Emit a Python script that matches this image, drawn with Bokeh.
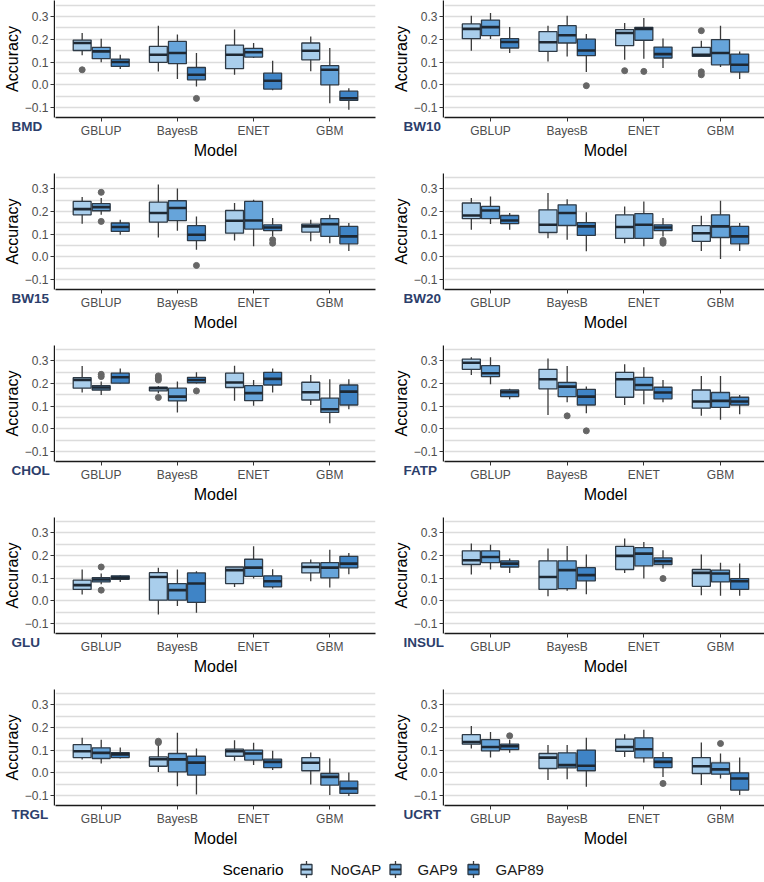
from bokeh.plotting import figure
from bokeh.layouts import row, column
from bokeh.models import (Range1d, FixedTicker, CustomJSTickFormatter, ColumnDataSource, Title, Grid)
from bokeh.embed import file_html
from bokeh.resources import INLINE
from bokeh.core.properties import value

# ---------------- data ----------------
models = ["GBLUP", "BayesB", "ENET", "GBM"]
scenarios = ["NoGAP", "GAP9", "GAP89"]
traits = ["BMD", "BW10", "BW15", "BW20", "CHOL", "FATP", "GLU", "INSUL", "TRGL", "UCRT"]

# each row: (whisker low, Q1, median, Q3, whisker high); order = model x scenario
BMD = [
    (0.130, 0.151, 0.184, 0.197, 0.228), (0.099, 0.115, 0.147, 0.165, 0.203), (0.069, 0.081, 0.100, 0.113, 0.132),
    (0.059, 0.099, 0.132, 0.169, 0.260), (0.025, 0.093, 0.140, 0.191, 0.221), (-0.007, 0.022, 0.044, 0.076, 0.140),
    (0.044, 0.071, 0.132, 0.175, 0.243), (0.118, 0.122, 0.143, 0.160, 0.184), (-0.024, -0.019, 0.018, 0.051, 0.106),
    (0.060, 0.110, 0.150, 0.184, 0.213), (-0.081, 0.000, 0.066, 0.084, 0.162), (-0.110, -0.069, -0.059, -0.028, -0.015),
]
BMD_out = [("GBLUP", "NoGAP", 0.066), ("BayesB", "GAP89", -0.060)]

BW10 = [
    (0.150, 0.203, 0.246, 0.268, 0.304), (0.201, 0.216, 0.254, 0.285, 0.316), (0.140, 0.162, 0.188, 0.203, 0.254),
    (0.103, 0.147, 0.187, 0.234, 0.260), (0.125, 0.184, 0.218, 0.260, 0.304), (0.056, 0.128, 0.151, 0.201, 0.224),
    (0.110, 0.172, 0.228, 0.243, 0.272), (0.115, 0.196, 0.246, 0.253, 0.294), (0.074, 0.118, 0.135, 0.166, 0.204),
    (0.122, 0.125, 0.132, 0.165, 0.194), (0.078, 0.088, 0.140, 0.199, 0.260), (0.025, 0.056, 0.088, 0.135, 0.147),
]
BW10_out = [("BayesB", "GAP89", -0.004), ("ENET", "NoGAP", 0.062), ("ENET", "GAP9", 0.059),
            ("GBM", "NoGAP", 0.238), ("GBM", "NoGAP", 0.057), ("GBM", "NoGAP", 0.044)]

BW15 = [
    (0.146, 0.185, 0.210, 0.244, 0.263), (0.185, 0.203, 0.219, 0.234, 0.259), (0.097, 0.112, 0.131, 0.149, 0.163),
    (0.085, 0.153, 0.193, 0.241, 0.318), (0.115, 0.159, 0.215, 0.247, 0.301), (0.031, 0.071, 0.097, 0.137, 0.178),
    (0.072, 0.104, 0.159, 0.204, 0.237), (0.046, 0.122, 0.160, 0.244, 0.251), (0.090, 0.115, 0.129, 0.141, 0.171),
    (0.068, 0.109, 0.134, 0.144, 0.163), (0.060, 0.090, 0.144, 0.168, 0.185), (0.026, 0.057, 0.090, 0.134, 0.149),
]
BW15_out = [("GBLUP", "GAP9", 0.284), ("GBLUP", "GAP9", 0.156), ("BayesB", "GAP89", -0.038),
            ("ENET", "GAP89", 0.075), ("ENET", "GAP89", 0.060)]

BW20 = [
    (0.119, 0.168, 0.182, 0.237, 0.259), (0.144, 0.168, 0.204, 0.222, 0.266), (0.119, 0.146, 0.160, 0.182, 0.193),
    (0.082, 0.107, 0.141, 0.207, 0.281), (0.075, 0.138, 0.193, 0.229, 0.254), (0.024, 0.094, 0.134, 0.151, 0.196),
    (0.060, 0.081, 0.131, 0.185, 0.222), (0.046, 0.081, 0.141, 0.190, 0.244), (0.090, 0.115, 0.129, 0.141, 0.171),
    (0.026, 0.068, 0.104, 0.137, 0.181), (-0.010, 0.085, 0.134, 0.185, 0.247), (0.026, 0.057, 0.090, 0.134, 0.149),
]
BW20_out = [("ENET", "GAP89", 0.072), ("ENET", "GAP89", 0.066), ("ENET", "GAP89", 0.060)]

CHOL = [
    (0.160, 0.179, 0.215, 0.225, 0.277), (0.149, 0.171, 0.182, 0.190, 0.208), (0.200, 0.201, 0.227, 0.245, 0.266),
    (0.157, 0.167, 0.179, 0.183, 0.189), (0.072, 0.123, 0.142, 0.179, 0.208), (0.200, 0.203, 0.215, 0.227, 0.249),
    (0.124, 0.182, 0.204, 0.245, 0.278), (0.102, 0.124, 0.157, 0.190, 0.215), (0.160, 0.193, 0.220, 0.249, 0.266),
    (0.105, 0.127, 0.161, 0.205, 0.237), (0.025, 0.072, 0.086, 0.135, 0.218), (0.086, 0.105, 0.164, 0.193, 0.218),
]
CHOL_out = [("GBLUP", "GAP9", 0.240), ("GBLUP", "GAP9", 0.230), ("BayesB", "NoGAP", 0.233),
            ("BayesB", "NoGAP", 0.223), ("BayesB", "NoGAP", 0.215), ("BayesB", "NoGAP", 0.138),
            ("BayesB", "GAP89", 0.167)]

FATP = [
    (0.237, 0.262, 0.291, 0.307, 0.315), (0.196, 0.230, 0.245, 0.278, 0.315), (0.130, 0.142, 0.161, 0.171, 0.176),
    (0.061, 0.176, 0.218, 0.262, 0.310), (0.117, 0.142, 0.186, 0.204, 0.277), (0.069, 0.105, 0.142, 0.174, 0.186),
    (0.105, 0.139, 0.218, 0.249, 0.284), (0.108, 0.171, 0.193, 0.227, 0.271), (0.117, 0.132, 0.160, 0.183, 0.215),
    (0.057, 0.091, 0.120, 0.171, 0.233), (0.040, 0.094, 0.123, 0.160, 0.233), (0.064, 0.105, 0.120, 0.139, 0.149),
]
FATP_out = [("BayesB", "GAP9", 0.057), ("BayesB", "GAP89", -0.009)]

GLU = [
    (0.028, 0.050, 0.069, 0.091, 0.138), (0.073, 0.083, 0.094, 0.102, 0.120), (0.083, 0.095, 0.102, 0.110, 0.113),
    (-0.060, 0.003, 0.105, 0.124, 0.146), (-0.023, 0.003, 0.047, 0.076, 0.138), (-0.053, -0.007, 0.076, 0.123, 0.130),
    (0.061, 0.076, 0.135, 0.149, 0.149), (0.098, 0.108, 0.146, 0.183, 0.240), (0.054, 0.061, 0.086, 0.110, 0.139),
    (0.086, 0.123, 0.149, 0.167, 0.182), (0.059, 0.101, 0.146, 0.168, 0.225), (0.117, 0.145, 0.164, 0.196, 0.211),
]
GLU_out = [("GBLUP", "GAP9", 0.149), ("GBLUP", "GAP9", 0.047)]

INSUL = [
    (0.116, 0.160, 0.179, 0.220, 0.252), (0.138, 0.168, 0.193, 0.220, 0.247), (0.123, 0.149, 0.164, 0.176, 0.186),
    (0.020, 0.050, 0.105, 0.176, 0.230), (0.044, 0.054, 0.135, 0.176, 0.242), (0.029, 0.088, 0.113, 0.146, 0.204),
    (0.123, 0.138, 0.198, 0.240, 0.274), (0.098, 0.154, 0.208, 0.234, 0.259), (0.142, 0.160, 0.174, 0.189, 0.223),
    (0.025, 0.064, 0.123, 0.138, 0.204), (0.022, 0.083, 0.120, 0.135, 0.168), (0.022, 0.050, 0.086, 0.098, 0.164),
]
INSUL_out = [("ENET", "GAP89", 0.098)]

TRGL = [
    (0.059, 0.067, 0.095, 0.124, 0.154), (0.041, 0.063, 0.088, 0.110, 0.146), (0.063, 0.067, 0.081, 0.089, 0.111),
    (0.004, 0.029, 0.060, 0.070, 0.129), (-0.059, 0.004, 0.059, 0.085, 0.176), (-0.095, -0.010, 0.045, 0.073, 0.107),
    (0.053, 0.073, 0.095, 0.104, 0.143), (0.034, 0.056, 0.085, 0.100, 0.132), (0.012, 0.023, 0.048, 0.060, 0.097),
    (-0.051, 0.009, 0.044, 0.067, 0.089), (-0.098, -0.054, -0.018, -0.003, 0.063), (-0.102, -0.091, -0.069, -0.037, 0.001),
]
TRGL_out = [("BayesB", "NoGAP", 0.139), ("BayesB", "NoGAP", 0.133)]

UCRT = [
    (0.107, 0.126, 0.136, 0.168, 0.206), (0.067, 0.097, 0.114, 0.146, 0.180), (0.088, 0.102, 0.117, 0.126, 0.146),
    (-0.032, 0.019, 0.067, 0.085, 0.122), (-0.028, 0.022, 0.034, 0.088, 0.122), (-0.061, 0.009, 0.031, 0.100, 0.155),
    (0.070, 0.095, 0.114, 0.148, 0.170), (0.045, 0.066, 0.104, 0.154, 0.190), (-0.018, 0.023, 0.048, 0.067, 0.092),
    (-0.054, -0.003, 0.029, 0.067, 0.133), (-0.025, -0.006, 0.015, 0.044, 0.085), (-0.098, -0.076, -0.025, 0.000, 0.067),
]
UCRT_out = [("GBLUP", "GAP89", 0.163), ("ENET", "GAP89", -0.047), ("GBM", "GAP9", 0.129)]

y_ticks = [-0.1, 0.0, 0.1, 0.2, 0.3]
y_minor = [-0.05, 0.05, 0.15, 0.25, 0.35]

stats = {"BMD": BMD, "BW10": BW10, "BW15": BW15, "BW20": BW20, "CHOL": CHOL,
         "FATP": FATP, "GLU": GLU, "INSUL": INSUL, "TRGL": TRGL, "UCRT": UCRT}
outs = {"BMD": BMD_out, "BW10": BW10_out, "BW15": BW15_out, "BW20": BW20_out, "CHOL": CHOL_out,
        "FATP": FATP_out, "GLU": GLU_out, "INSUL": INSUL_out, "TRGL": TRGL_out, "UCRT": UCRT_out}

# ---------------- style ----------------
FONT = "Liberation Sans"
fills = ["#A9CEEC", "#66A4DA", "#3F84C6"]
offsets = [-0.25, 0.0, 0.25]
BOX_W = 0.235
EDGE = "#2E3A46"
GRID = "#DCDCDC"
LABEL_COLOR = "#2C3E6B"
Y_MIN = -0.144


def style_axis(ax):
    ax.axis_line_color = "#1A1A1A"
    ax.axis_line_width = 1.4
    ax.major_tick_line_color = "#333333"
    ax.major_tick_out = 4
    ax.major_tick_in = 0
    ax.minor_tick_line_color = None
    ax.major_label_text_font = FONT
    ax.major_label_text_font_size = "12px"
    ax.major_label_text_color = "#4D4D4D"
    ax.major_label_standoff = 2
    ax.axis_label_text_font = FONT
    ax.axis_label_text_font_size = "16px"
    ax.axis_label_text_font_style = "normal"
    ax.axis_label_text_color = "black"
    ax.axis_label_standoff = 1


def make_panel(trait, col, r):
    if col == 0:
        sbl, fw, mbr, toff = 52, 320, 9, -43
    else:
        sbl, fw, mbr, toff = 59, 322, 0, -40
    if r == 0:
        fh, mbt, ytop = 117, 0, 0.371
    else:
        fh, mbt, ytop = 116, 1, 0.367
    mbb = 47 if r == 4 else 55
    yr = Range1d(Y_MIN, ytop)
    yt = FixedTicker(ticks=y_ticks, minor_ticks=y_minor)

    # strip holding the y axis and the trait tag
    s = figure(frame_width=1, frame_height=fh, min_border_left=sbl, min_border_right=0,
               min_border_top=mbt, min_border_bottom=mbb, x_range=Range1d(0, 1), y_range=yr,
               x_axis_location=None, y_axis_location="left",
               output_backend="svg", toolbar_location=None, tools="")
    s.outline_line_color = None
    s.grid.visible = False
    s.yaxis.ticker = yt
    s.yaxis.formatter = CustomJSTickFormatter(
        code="var s = Math.abs(tick).toFixed(1); return tick < -1e-9 ? '\u2212' + s : s;")
    style_axis(s.yaxis[0])
    s.yaxis.axis_label = "Accuracy"
    s.add_layout(Title(text=trait, align="left", offset=toff, standoff=3, vertical_align="top",
                       text_font=FONT, text_font_size="13.5px", text_font_style="bold",
                       text_color=LABEL_COLOR), "below")

    p = figure(frame_width=fw, frame_height=fh, min_border_left=0, min_border_right=mbr,
               min_border_top=mbt, min_border_bottom=mbb,
               x_range=Range1d(0.4, 4.6), y_range=yr, y_axis_location=None,
               output_backend="svg", toolbar_location=None, tools="")
    p.outline_line_color = None
    p.background_fill_color = "white"
    p.border_fill_color = "white"
    p.xgrid.visible = False
    p.add_layout(Grid(dimension=1, ticker=yt, grid_line_color=GRID, grid_line_width=1.3,
                      minor_grid_line_color=GRID, minor_grid_line_width=1.3))

    data = stats[trait]
    x, lo, q1, med, q3, hi, fc, xl, xr_ = [], [], [], [], [], [], [], [], []
    for i, m in enumerate(models):
        for j, sc in enumerate(scenarios):
            a, b, c, d, e = data[i * 3 + j]
            xc = i + 1 + offsets[j]
            x.append(xc); lo.append(a); q1.append(b); med.append(c); q3.append(d); hi.append(e)
            fc.append(fills[j]); xl.append(xc - BOX_W / 2); xr_.append(xc + BOX_W / 2)
    src = ColumnDataSource(dict(x=x, lo=lo, q1=q1, med=med, q3=q3, hi=hi, fc=fc, xl=xl, xr=xr_))

    p.segment(x0="x", y0="lo", x1="x", y1="hi", source=src, line_color="#3A3A3A", line_width=1.3)
    p.vbar(x="x", width=BOX_W, bottom="q1", top="q3", source=src, fill_color="fc",
           line_color=EDGE, line_width=1.3)
    p.segment(x0="xl", y0="med", x1="xr", y1="med", source=src, line_color="#1E2833", line_width=2.6)

    ox = [models.index(m) + 1 + offsets[scenarios.index(sc)] for m, sc, v in outs[trait]]
    oy = [v for m, sc, v in outs[trait]]
    p.scatter(ox, oy, size=6, fill_color="#666666", line_color="#666666")

    p.xaxis.ticker = FixedTicker(ticks=[1, 2, 3, 4])
    p.xaxis.formatter = CustomJSTickFormatter(args=dict(names=models),
                                              code="return names[Math.round(tick) - 1] || '';")
    style_axis(p.xaxis[0])
    p.xaxis.axis_label = "Model"
    return s, p


rows = []
for r in range(5):
    sL, pL = make_panel(traits[2 * r], 0, r)
    sR, pR = make_panel(traits[2 * r + 1], 1, r)
    rows.append(row(sL, pL, sR, pR))

# ---------------- legend ----------------
LH = 30
lf = figure(frame_width=764, frame_height=LH, min_border=0, x_range=Range1d(0, 764), y_range=Range1d(0, LH),
            x_axis_location=None, y_axis_location=None,
            output_backend="svg", toolbar_location=None, tools="")
lf.grid.visible = False
lf.outline_line_color = None
key_x = [306, 395, 473]
lab_x = [330, 417, 495]
cy = 13
lf.text(x=[222], y=[cy], text=["Scenario"], text_font=value(FONT), text_font_size=value("15.5px"),
        text_baseline="middle", text_color="black")
lf.segment(x0=key_x, y0=[cy - 8.5] * 3, x1=key_x, y1=[cy + 8.5] * 3, line_color="#3A3A3A", line_width=1.3)
lf.rect(x=key_x, y=[cy] * 3, width=11, height=10, fill_color=fills, line_color=EDGE, line_width=1.3)
lf.segment(x0=[k - 5.5 for k in key_x], y0=[cy] * 3, x1=[k + 5.5 for k in key_x], y1=[cy] * 3,
           line_color="#1E2833", line_width=2)
lf.text(x=lab_x, y=[cy] * 3, text=scenarios, text_font=value(FONT), text_font_size=value("15px"),
        text_baseline="middle", text_color="#1A1A1A")

layout = column(*rows, lf)
open("out.html", "w").write(file_html(layout, INLINE))
